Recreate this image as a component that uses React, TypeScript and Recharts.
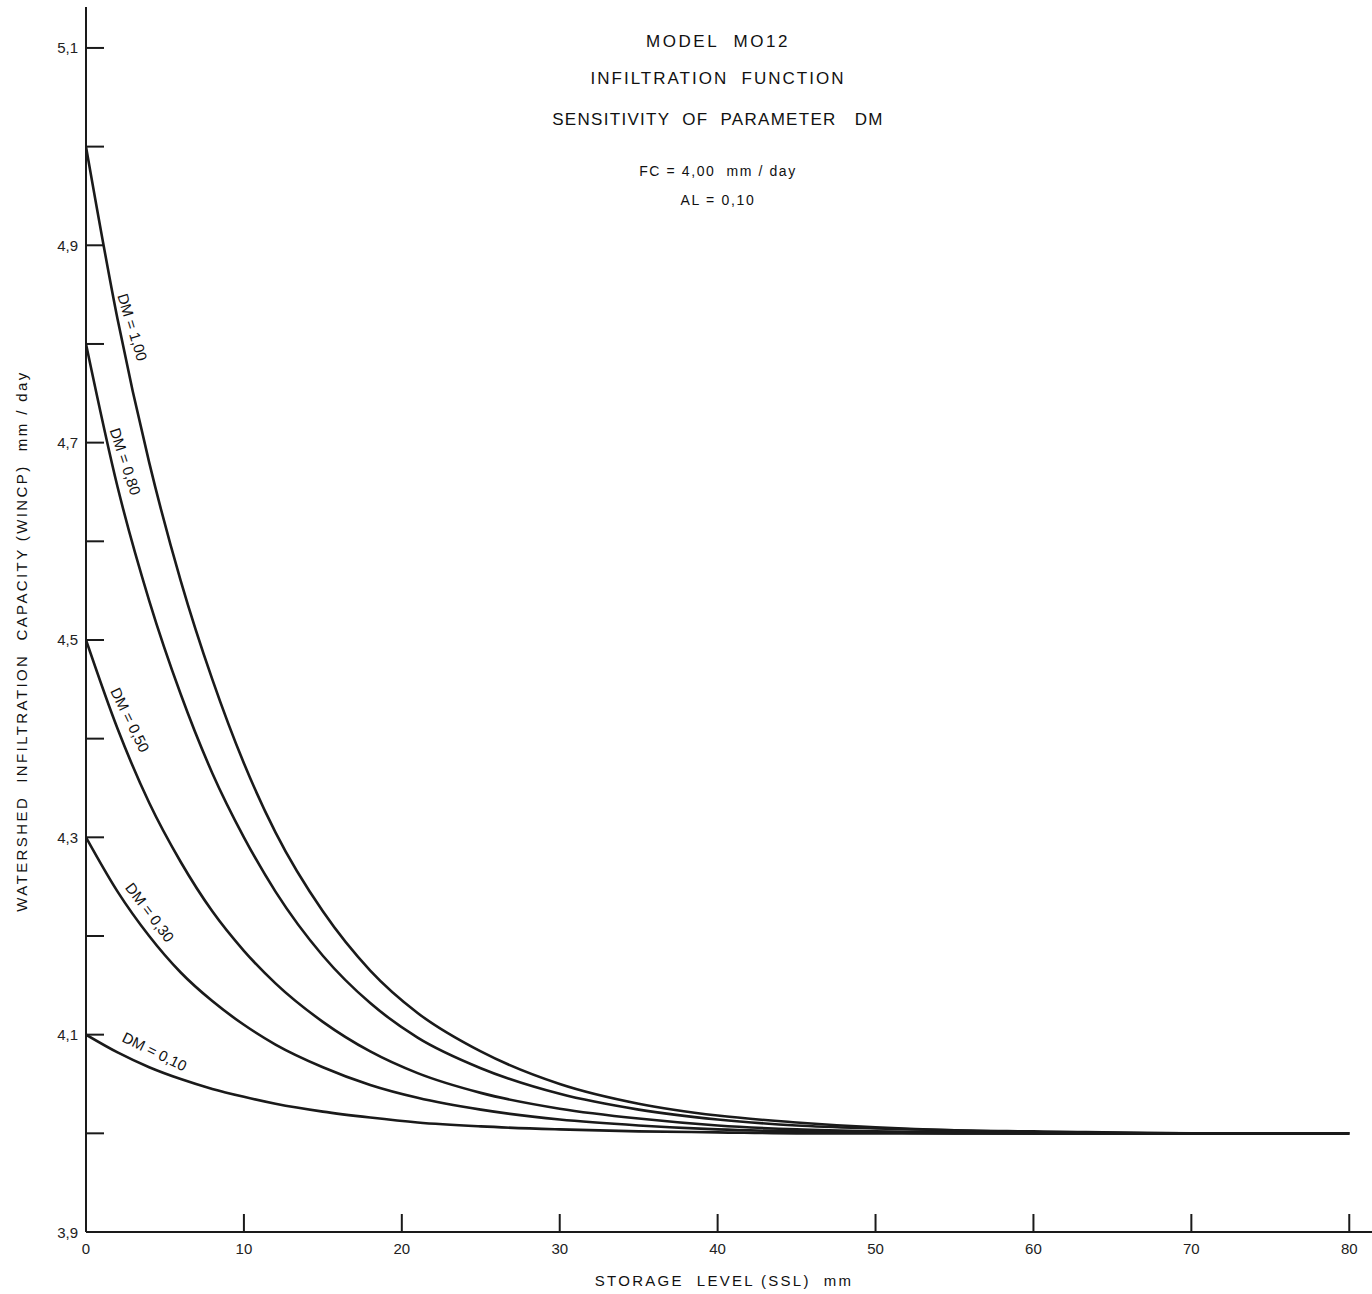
import React from 'react';
import { LineChart, Line, XAxis, YAxis, ReferenceDot } from 'recharts';

// storage level SSL (mm) where curves were read
const ssl = [0, 2, 4, 6, 8, 10, 12, 15, 18, 21, 25, 30, 35, 40, 45, 50, 55, 60, 70, 80];

// WINCP (mm/day), one list per DM value
const dm100 = [5.0, 4.825, 4.68, 4.56, 4.46, 4.375, 4.305, 4.225, 4.165, 4.122, 4.083, 4.05, 4.03, 4.018, 4.011, 4.006, 4.003, 4.002, 4.0, 4.0];
const dm080 = [4.8, 4.655, 4.54, 4.445, 4.365, 4.30, 4.245, 4.18, 4.132, 4.097, 4.066, 4.04, 4.024, 4.014, 4.008, 4.005, 4.003, 4.001, 4.0, 4.0];
const dm050 = [4.5, 4.41, 4.335, 4.275, 4.225, 4.185, 4.152, 4.113, 4.083, 4.061, 4.041, 4.025, 4.015, 4.008, 4.004, 4.002, 4.001, 4.0, 4.0, 4.0];
const dm030 = [4.3, 4.245, 4.20, 4.163, 4.134, 4.11, 4.09, 4.067, 4.049, 4.036, 4.024, 4.014, 4.008, 4.004, 4.002, 4.001, 4.0, 4.0, 4.0, 4.0];
const dm010 = [4.1, 4.082, 4.067, 4.055, 4.045, 4.037, 4.03, 4.022, 4.016, 4.011, 4.007, 4.004, 4.002, 4.001, 4.0, 4.0, 4.0, 4.0, 4.0, 4.0];

const xTicks = [0, 10, 20, 30, 40, 50, 60, 70, 80];
const yTicks = [3.9, 4.0, 4.1, 4.2, 4.3, 4.4, 4.5, 4.6, 4.7, 4.8, 4.9, 5.0, 5.1];

const series = [
	{ key: 'dm100', values: dm100, label: 'DM = 1,00', at: [2.95, 4.817], angle: 73 },
	{ key: 'dm080', values: dm080, label: 'DM = 0,80', at: [2.5, 4.681], angle: 72 },
	{ key: 'dm050', values: dm050, label: 'DM = 0,50', at: [2.8, 4.419], angle: 64 },
	{ key: 'dm030', values: dm030, label: 'DM = 0,30', at: [4.05, 4.224], angle: 53 },
	{ key: 'dm010', values: dm010, label: 'DM = 0,10', at: [4.35, 4.083], angle: 26 },
];

const data = ssl.map((x, i) =>
{
	const row: any = { ssl: x };
	series.forEach(s => { row[s.key] = s.values[i]; });
	return row;
});

const ink = '#1a1a1a';
const font = '"Liberation Sans", Arial, Helvetica, sans-serif';

const YTick = (props: any) =>
{
	const { x, y, payload } = props;
	const v = payload.value;
	const tenth = Math.round(v * 10);
	const labeled = tenth % 2 === 1;
	return (
		<g>
			{ tenth !== 39 && <line x1={ x } y1={ y } x2={ x + 18 } y2={ y } stroke={ ink } strokeWidth={ 2 } /> }
			{ labeled &&
				<text x={ x - 8 } y={ y } textAnchor="end" dominantBaseline="central"
					fontFamily={ font } fontSize={ 15 } fill="#222">
					{ v.toFixed(1).replace('.', ',') }
				</text> }
		</g>
	);
};

const XTick = (props: any) =>
{
	const { x, y, payload } = props;
	return (
		<g>
			{ payload.value !== 0 && <line x1={ x } y1={ y } x2={ x } y2={ y - 18 } stroke={ ink } strokeWidth={ 2 } /> }
			<text x={ x } y={ y + 16 } textAnchor="middle" dominantBaseline="central"
				fontFamily={ font } fontSize={ 15 } fill="#222">
				{ payload.value }
			</text>
		</g>
	);
};

const curveLabel = (text: string, angle: number) => (props: any) =>
{
	const { viewBox } = props;
	const cx = viewBox.x + viewBox.width / 2;
	const cy = viewBox.y + viewBox.height / 2;
	return (
		<text x={ cx } y={ cy } textAnchor="middle" dominantBaseline="central"
			transform={ `rotate(${ angle } ${ cx } ${ cy })` }
			fontFamily={ font } fontSize={ 15 } fill="#111">
			{ text }
		</text>
	);
};

const title: React.CSSProperties = {
	position: 'absolute',
	left: 418,
	width: 600,
	textAlign: 'center',
	fontFamily: font,
	color: '#111',
	whiteSpace: 'pre',
	lineHeight: 1,
};

export default function App()
{
	return (
		<div style={ { position: 'absolute', left: 0, top: 0, width: 1372, height: 1294 } }>
			<LineChart
				width={ 1372 }
				height={ 1294 }
				data={ data }
				margin={ { top: 7, right: 0, left: 85, bottom: 61 } }
			>
				<XAxis
					dataKey="ssl"
					type="number"
					domain={ [0, 81.44] }
					ticks={ xTicks }
					allowDataOverflow
					height={ 1 }
					tickSize={ 0 }
					tickMargin={ 0 }
					tickLine={ false }
					axisLine={ { stroke: ink, strokeWidth: 2 } }
					tick={ <XTick /> }
				/>
				<YAxis
					type="number"
					domain={ [3.9, 5.1415] }
					ticks={ yTicks }
					allowDataOverflow
					width={ 1 }
					tickSize={ 0 }
					tickMargin={ 0 }
					tickLine={ false }
					axisLine={ { stroke: ink, strokeWidth: 2 } }
					tick={ <YTick /> }
				/>
				{ series.map(s => (
					<Line
						key={ s.key }
						dataKey={ s.key }
						type="monotone"
						stroke={ ink }
						strokeWidth={ 2.6 }
						dot={ false }
						activeDot={ false }
						isAnimationActive={ false }
					/>
				)) }
				{ series.map(s => (
					<ReferenceDot
						key={ 'lbl' + s.key }
						x={ s.at[0] }
						y={ s.at[1] }
						r={ 1 }
						fill="none"
						stroke="none"
						label={ curveLabel(s.label, s.angle) }
					/>
				)) }
			</LineChart>

			<div style={ { ...title, top: 33, fontSize: 17, letterSpacing: 2.6 } }>MODEL  MO12</div>
			<div style={ { ...title, top: 70, fontSize: 17, letterSpacing: 2 } }>INFILTRATION  FUNCTION</div>
			<div style={ { ...title, top: 111, fontSize: 17, letterSpacing: 1.3 } }>SENSITIVITY  OF  PARAMETER   DM</div>
			<div style={ { ...title, top: 164, fontSize: 14, letterSpacing: 1.6 } }>FC = 4,00  mm / day</div>
			<div style={ { ...title, top: 193, fontSize: 14, letterSpacing: 1.7 } }>AL = 0,10</div>

			<div style={ { ...title, top: 1273, left: 424, fontSize: 15, letterSpacing: 2.3 } }>STORAGE  LEVEL (SSL)  mm</div>
			<div style={ {
				...title,
				left: 22 - 300,
				top: 641 - 8,
				fontSize: 15,
				letterSpacing: 2.4,
				transform: 'rotate(-90deg)',
				transformOrigin: '300px 8px',
			} }>WATERSHED  INFILTRATION  CAPACITY (WINCP)  mm / day</div>
		</div>
	);
}
